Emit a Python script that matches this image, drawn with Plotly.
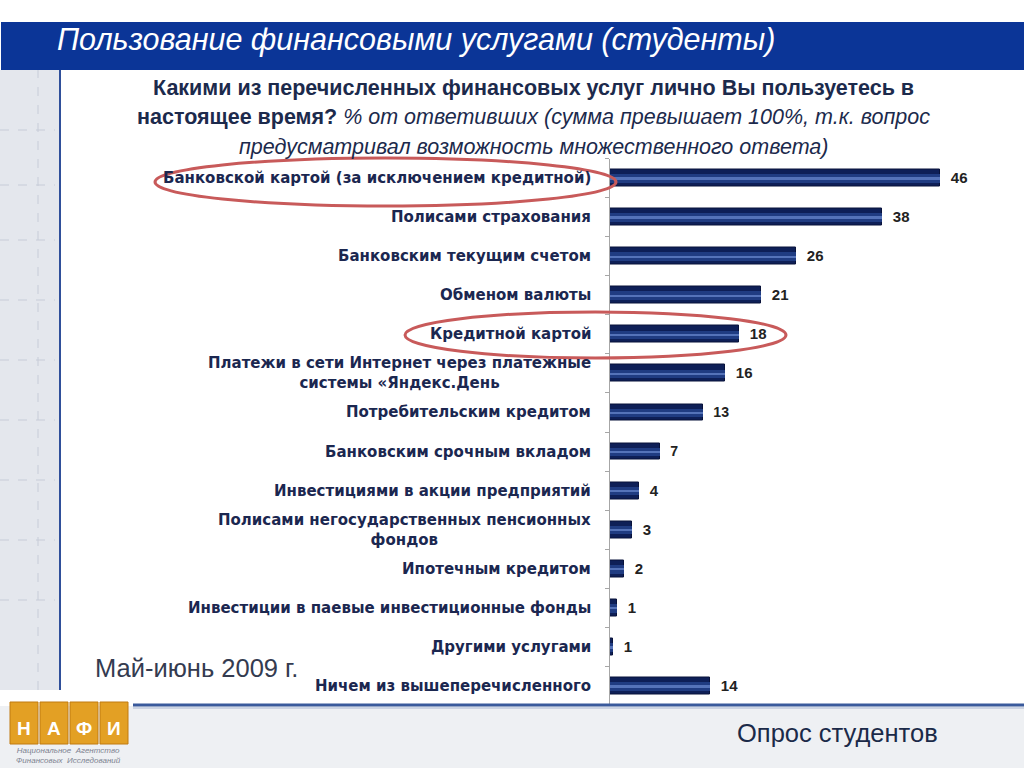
import plotly.graph_objects as go

# Data (top to bottom)
categories = [
    'Банковской картой (за исключением кредитной)',
    'Полисами страхования',
    'Банковским текущим счетом',
    'Обменом валюты',
    'Кредитной картой',
    'Платежи в сети Интернет через платежные<br>системы «Яндекс.День',
    'Потребительским кредитом',
    'Банковским срочным вкладом',
    'Инвестициями в акции предприятий',
    'Полисами негосударственных пенсионных<br>фондов',
    'Ипотечным кредитом',
    'Инвестиции в паевые инвестиционные фонды',
    'Другими услугами',
    'Ничем из вышеперечисленного',
]
values = [46, 38, 26, 21, 18, 16, 13, 7, 4, 3, 2, 1, 0.4, 14]
value_labels = ['46', '38', '26', '21', '18', '16', '13', '7', '4', '3', '2', '1', '1', '14']

W, H = 1024, 768


def px(x):
    return x / W


def py(y):
    return (H - y) / H


FONT = 'Liberation Sans, Arial, sans-serif'
LABEL_FONT = 'DejaVu Sans, Verdana, sans-serif'
NAVY = '#1b2750'

fig = go.Figure()

# main bars (dark edges)
fig.add_trace(go.Bar(
    x=values, y=categories, orientation='h',
    width=0.43,
    marker=dict(color='#0e1f57', line=dict(color='#08123a', width=1)),
    text=['  ' + t for t in value_labels],
    textposition='outside',
    textfont=dict(family=FONT, size=15, color='#222222', weight='bold'),
    cliponaxis=False,
    hoverinfo='skip',
))
# lighter middle band
fig.add_trace(go.Bar(
    x=values, y=categories, orientation='h',
    width=0.22,
    marker=dict(color='#203c82', line=dict(width=0)),
    hoverinfo='skip',
))
# thin highlight stripe
fig.add_trace(go.Bar(
    x=values, y=categories, orientation='h',
    width=0.06,
    marker=dict(color='rgba(95,125,195,0.85)', line=dict(width=0)),
    hoverinfo='skip',
))

shapes = []
# left textured strip
shapes.append(dict(type='rect', xref='paper', yref='paper', x0=0, x1=px(59), y0=py(690), y1=py(70),
                   fillcolor='#e4e7ed', line=dict(width=0), layer='below'))
for yy in [130, 185, 240, 300, 360, 420, 480, 540, 600]:
    shapes.append(dict(type='line', xref='paper', yref='paper', x0=0, x1=px(55), y0=py(yy), y1=py(yy),
                       line=dict(color='#c7ccd8', width=1, dash='dash'), layer='below'))
shapes.append(dict(type='line', xref='paper', yref='paper', x0=px(38), x1=px(38), y0=py(690), y1=py(70),
                   line=dict(color='#c7ccd8', width=1, dash='dash'), layer='below'))
# bottom textured strip
shapes.append(dict(type='rect', xref='paper', yref='paper', x0=0, x1=1, y0=0, y1=py(706),
                   fillcolor='#eef0f3', line=dict(width=0), layer='below'))
# vertical blue rule on the left
shapes.append(dict(type='line', xref='paper', yref='paper', x0=px(60), x1=px(60), y0=py(690), y1=py(70),
                   line=dict(color='#2f4f9a', width=2)))
# bottom horizontal rule
shapes.append(dict(type='line', xref='paper', yref='paper', x0=px(133), x1=1, y0=py(705), y1=py(705),
                   line=dict(color='#3a5a9c', width=3)))
shapes.append(dict(type='line', xref='paper', yref='paper', x0=px(133), x1=1, y0=py(708), y1=py(708),
                   line=dict(color='#a9b6d2', width=1)))
# title band
shapes.append(dict(type='rect', xref='paper', yref='paper', x0=px(1), x1=1, y0=py(70), y1=py(22),
                   fillcolor='#0b3597', line=dict(width=0)))
# red ellipses
shapes.append(dict(type='circle', xref='paper', yref='paper', x0=px(155), x1=px(616), y0=py(206), y1=py(158),
                   line=dict(color='#c85a5a', width=3)))
shapes.append(dict(type='circle', xref='paper', yref='paper', x0=px(405), x1=px(786), y0=py(358), y1=py(312),
                   line=dict(color='#c85a5a', width=3)))
# logo blocks
logo_x = [10, 40, 70, 100]
for x0 in logo_x:
    shapes.append(dict(type='rect', xref='paper', yref='paper', x0=px(x0), x1=px(x0 + 28), y0=py(744), y1=py(702),
                       fillcolor='#e3a024', line=dict(color='#c07a10', width=1)))

annotations = []
annotations.append(dict(x=px(55), y=py(39), xref='paper', yref='paper', xanchor='left', yanchor='middle',
                        text='<i>Пользование финансовыми услугами (студенты)</i>', showarrow=False,
                        font=dict(family=FONT, size=30.5, color='white')))
q_lines = [
    ('<b>Какими из перечисленных финансовых услуг лично Вы пользуетесь в</b>', 88),
    ('<b>настоящее время?</b> <i>% от ответивших (сумма превышает 100%, т.к. вопрос</i>', 117),
    ('<i>предусматривал возможность множественного ответа)</i>', 147),
]
for txt, yy in q_lines:
    annotations.append(dict(x=px(533), y=py(yy), xref='paper', yref='paper', xanchor='center', yanchor='middle',
                            text=txt, showarrow=False, font=dict(family=FONT, size=21.5, color='#1c2a4c')))
# category labels (centred multi-line, right aligned block)
for c in categories:
    annotations.append(dict(x=px(593), y=c, xref='paper', yref='y', xanchor='right', yanchor='middle',
                            text=c, showarrow=False, align='center',
                            font=dict(family=LABEL_FONT, size=15, color=NAVY, weight='bold')))
annotations.append(dict(x=px(93), y=py(668), xref='paper', yref='paper', xanchor='left', yanchor='middle',
                        text='Май-июнь 2009 г.', showarrow=False,
                        font=dict(family=FONT, size=25.5, color='#343b50')))
annotations.append(dict(x=px(735), y=py(733), xref='paper', yref='paper', xanchor='left', yanchor='middle',
                        text='Опрос студентов', showarrow=False,
                        font=dict(family=FONT, size=25.5, color='#1b2a48')))
for letter, x0 in zip(['Н', 'А', 'Ф', 'И'], logo_x):
    annotations.append(dict(x=px(x0 + 14), y=py(728), xref='paper', yref='paper', xanchor='center', yanchor='middle',
                            text='<b>' + letter + '</b>', showarrow=False,
                            font=dict(family=FONT, size=19, color='white')))
annotations.append(dict(x=px(68), y=py(755), xref='paper', yref='paper', xanchor='center', yanchor='middle',
                        text='<i>Национальное  Агентство<br>Финансовых  Исследований</i>', showarrow=False,
                        font=dict(family=FONT, size=8, color='#7d8290')))

fig.update_layout(
    width=W, height=H,
    margin=dict(l=0, r=0, t=0, b=0),
    paper_bgcolor='white', plot_bgcolor='rgba(0,0,0,0)',
    barmode='overlay', bargap=0,
    showlegend=False,
    shapes=shapes, annotations=annotations,
    xaxis=dict(domain=[px(610), px(1000)], range=[0, 54.4], visible=False),
    yaxis=dict(domain=[py(705.5), py(158.5)], categoryorder='array', categoryarray=categories,
               autorange='reversed', showticklabels=False,
               showline=True, linecolor='#a6a6a6', linewidth=1,
               ticks='outside', tickson='boundaries', ticklen=4, tickcolor='#a6a6a6',
               showgrid=False, zeroline=False),
)

fig.write_html('out.html', config={'displayModeBar': False},
               post_script="document.body.style.margin='0';")
